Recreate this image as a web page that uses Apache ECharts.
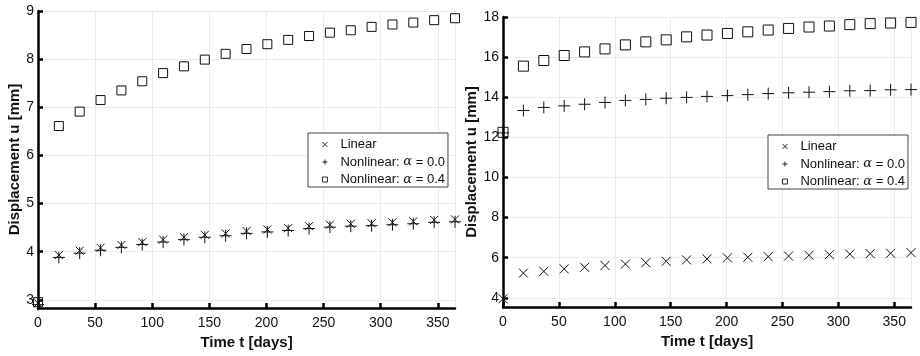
<!DOCTYPE html>
<html>
<head>
<meta charset="utf-8">
<script src="https://cdn.jsdelivr.net/npm/echarts@6/dist/echarts.min.js"></script>
<style>
  html, body { margin: 0; padding: 0; background: #fff; }
  #chart { width: 920px; height: 356px; }
</style>
</head>
<body>
<div id="chart"></div>
<script>
// time samples [days]
const days = [0, 18.25, 36.5, 54.75, 73, 91.25, 109.5, 127.75, 146, 164.25, 182.5,
  200.75, 219, 237.25, 255.5, 273.75, 292, 310.25, 328.5, 346.75, 365];

// left panel displacement [mm]
const leftLinear = [2.93, 3.93, 4.02, 4.08, 4.14, 4.2, 4.25, 4.3, 4.35, 4.38, 4.43,
  4.46, 4.49, 4.53, 4.56, 4.58, 4.59, 4.61, 4.63, 4.66, 4.67];
const leftNonlin0 = [2.9, 3.88, 3.97, 4.03, 4.09, 4.15, 4.2, 4.25, 4.3, 4.33, 4.38,
  4.41, 4.44, 4.48, 4.51, 4.53, 4.54, 4.56, 4.58, 4.61, 4.62];
const leftNonlin4 = [2.95, 6.61, 6.91, 7.15, 7.35, 7.54, 7.71, 7.85, 7.99, 8.11, 8.21,
  8.31, 8.4, 8.48, 8.55, 8.6, 8.67, 8.72, 8.76, 8.81, 8.85];

// right panel displacement [mm]
const rightLinear = [3.95, 5.23, 5.32, 5.44, 5.52, 5.61, 5.68, 5.75, 5.82, 5.89, 5.94,
  5.99, 6.02, 6.05, 6.08, 6.12, 6.15, 6.18, 6.2, 6.22, 6.25];
const rightNonlin0 = [12.22, 13.34, 13.49, 13.57, 13.65, 13.74, 13.84, 13.89, 13.95, 13.99, 14.04,
  14.08, 14.13, 14.18, 14.22, 14.25, 14.28, 14.32, 14.33, 14.37, 14.38];
const rightNonlin4 = [12.25, 15.55, 15.83, 16.08, 16.26, 16.41, 16.61, 16.76, 16.86, 17.01, 17.1,
  17.18, 17.26, 17.35, 17.43, 17.5, 17.55, 17.62, 17.67, 17.7, 17.73];

const names = ["Linear", "Nonlinear: \u03b1 = 0.0", "Nonlinear: \u03b1 = 0.4"];
const crossPath = "path://M0,0L10,10M0,10L10,0";
const plusPath = "path://M5,0L5,10M0,5L10,5";

const font = "Liberation Sans, Arial, sans-serif";

function scatter(name, values, symbol, size, idx) {
  return {
    name,
    type: "scatter",
    xAxisIndex: idx,
    yAxisIndex: idx,
    data: days.map((t, i) => [t, values[i]]),
    symbol,
    symbolSize: size,
    clip: false,
    silent: true,
    itemStyle: { color: "transparent", borderColor: "#111", borderWidth: 1, opacity: 1 },
    emphasis: { disabled: true }
  };
}

function xAxis(idx) {
  return {
    type: "value",
    gridIndex: idx,
    min: 0,
    max: 365,
    interval: 50,
    name: "Time t [days]",
    nameLocation: "middle",
    nameGap: 26,
    nameTextStyle: { color: "#111", fontFamily: font, fontWeight: "bold", fontSize: 15 },
    axisLine: { show: true, onZero: false, lineStyle: { color: "#000", width: 2.5 } },
    axisTick: { show: true, inside: true, length: 5, lineStyle: { color: "#000", width: 2.5 } },
    axisLabel: { color: "#111", fontFamily: font, fontSize: 14, margin: 8, showMaxLabel: false },
    splitLine: { show: true, lineStyle: { color: "#ebebeb", width: 1 } }
  };
}

function yAxis(idx, min, max, split) {
  return {
    type: "value",
    gridIndex: idx,
    min,
    max,
    splitNumber: split,
    name: "Displacement u [mm]",
    nameLocation: "middle",
    nameGap: 15,
    nameTextStyle: { color: "#111", fontFamily: font, fontWeight: "bold", fontSize: 15 },
    axisLine: { show: true, onZero: false, lineStyle: { color: "#000", width: 2.5 } },
    axisTick: { show: true, inside: true, length: 5, lineStyle: { color: "#000", width: 2.5 } },
    axisLabel: { color: "#111", fontFamily: font, fontSize: 14, margin: 4, showMinLabel: false },
    splitLine: { show: true, lineStyle: { color: "#ebebeb", width: 1 } }
  };
}

function legend(left, top) {
  return {
    left,
    top,
    orient: "vertical",
    backgroundColor: "#fff",
    borderColor: "#444",
    borderWidth: 1,
    borderRadius: 0,
    padding: [5, 3, 1, 14],
    itemGap: 4.5,
    itemWidth: 5,
    itemHeight: 5,
    selectedMode: false,
    itemStyle: { borderWidth: 0.9 },
    data: [
      { name: names[0], icon: crossPath },
      { name: names[1], icon: plusPath },
      { name: names[2], icon: "rect" }
    ],
    textStyle: {
      color: "#111",
      fontFamily: font,
      fontSize: 13,
      padding: [0, 0, 0, 8],
      rich: { a: { fontFamily: "DejaVu Serif", fontStyle: "italic", fontSize: 13, color: "#111" } }
    },
    formatter: (name) => name.replace("\u03b1", "{a|\u03b1}")
  };
}

const chart = echarts.init(document.getElementById("chart"), null, { renderer: "canvas" });
chart.setOption({
  animation: false,
  backgroundColor: "#fff",
  grid: [
    { left: 38, top: 11, width: 417, height: 297 },
    { left: 503, top: 17, width: 408, height: 290 }
  ],
  xAxis: [xAxis(0), xAxis(1)],
  yAxis: [yAxis(0, 2.83, 9, 6), yAxis(1, 3.54, 18, 7)],
  legend: [legend(308, 133), legend(768, 135)],
  series: [
    scatter(names[0], leftLinear, crossPath, 8, 0),
    scatter(names[1], leftNonlin0, plusPath, 12, 0),
    scatter(names[2], leftNonlin4, "rect", 9, 0),
    scatter(names[0], rightLinear, crossPath, 9, 1),
    scatter(names[1], rightNonlin0, plusPath, 12, 1),
    scatter(names[2], rightNonlin4, "rect", 10, 1)
  ]
});
</script>
</body>
</html>
